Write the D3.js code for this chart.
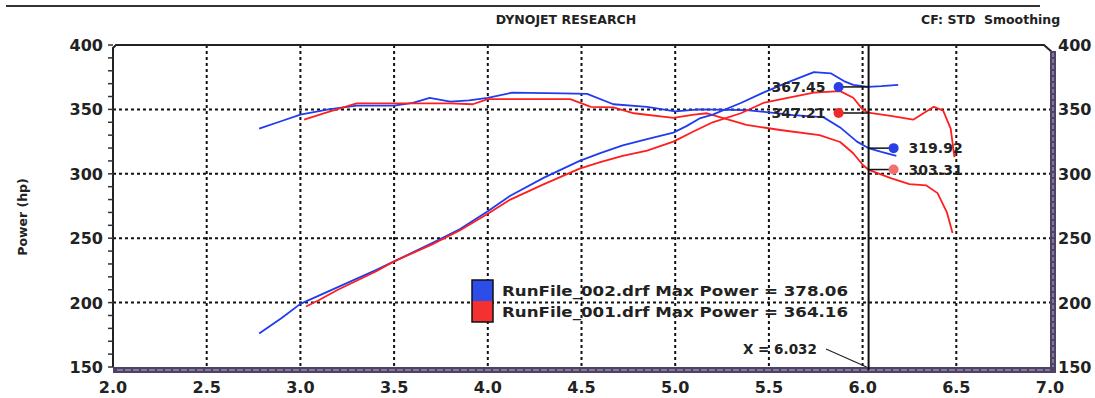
<!DOCTYPE html>
<html>
<head>
<meta charset="utf-8">
<script src="https://cdn.jsdelivr.net/npm/d3@7"></script>
<style>
  body { margin: 0; background: #fff; }
  svg { display: block; font-family: "DejaVu Sans", Verdana, sans-serif; font-weight: bold; }
</style>
</head>
<body>
<div id="chart"></div>
<script>
// axis ticks
const xTicks = [2.0, 2.5, 3.0, 3.5, 4.0, 4.5, 5.0, 5.5, 6.0, 6.5, 7.0];
const yTicks = [150, 200, 250, 300, 350, 400];

// RunFile_002 (blue) and RunFile_001 (red), [rpm x1000, value]
const run002Power = [[2.78,176],[2.9,188],[3.0,199],[3.2,212],[3.4,225],[3.5,232],[3.7,246],[3.85,257],[4.0,271],
  [4.12,283],[4.3,297],[4.49,310],[4.6,316],[4.72,322],[4.85,327],[4.99,332],[5.06,337],[5.13,343],[5.2,346],
  [5.35,355],[5.47,363],[5.6,371],[5.74,379],[5.83,378],[5.9,372],[5.95,369],[6.03,367.5],[6.1,368],[6.19,369]];
const run002Torque = [[2.78,335],[2.9,341],[3.0,346],[3.15,350],[3.3,353],[3.5,353],[3.6,355],[3.69,359],[3.8,356],
  [3.9,357],[4.0,359],[4.13,363],[4.4,362.5],[4.53,362],[4.67,354],[4.85,352],[5.0,348.5],[5.13,350],[5.38,349.5],
  [5.63,345.6],[5.79,344],[5.88,336],[5.97,325],[6.03,320],[6.1,317],[6.18,314]];
const run001Power = [[3.03,197],[3.1,202],[3.2,210],[3.4,224],[3.5,232],[3.7,245],[3.85,256],[4.0,269],[4.12,280],
  [4.3,292],[4.49,304],[4.6,309],[4.72,314],[4.85,318],[4.99,325],[5.1,333],[5.2,340],[5.35,347],[5.47,355],
  [5.6,359],[5.74,363],[5.88,364.2],[5.95,359],[6.0,350],[6.03,347.5],[6.15,345],[6.27,342],[6.38,352],[6.43,349],
  [6.47,335],[6.49,313]];
const run001Torque = [[3.02,342],[3.15,348],[3.3,354.7],[3.53,354.7],[3.8,354.7],[3.92,354],[4.0,358],[4.2,358],
  [4.44,358],[4.55,352],[4.67,351.5],[4.78,347],[4.99,343.5],[5.1,346],[5.17,347],[5.38,338],[5.56,334],[5.77,330],
  [5.88,324.7],[5.95,316],[6.0,307],[6.03,303.3],[6.15,296.7],[6.25,292],[6.34,291],[6.4,285],[6.45,270],[6.48,254]];

const cursorX = 6.032;
const cursorReadouts = [
  { value: 367.45, color: "#2a3ee8", side: "left" },
  { value: 347.21, color: "#f02828", side: "left" },
  { value: 319.92, color: "#2a3ee8", side: "right" },
  { value: 303.31, color: "#f27070", side: "right" }
];
const legendItems = [
  { label: "RunFile_002.drf Max Power = 378.06", color: "#2d4de8" },
  { label: "RunFile_001.drf Max Power = 364.16", color: "#f53030" }
];

const blue = "#1f3cf0", red = "#ff1e1e";

const svg = d3.select("#chart").append("svg").attr("width", 1095).attr("height", 398);

const x = d3.scaleLinear().domain([2, 7]).range([113, 1050]);
const y = d3.scaleLinear().domain([150, 400]).range([367, 45]);

// header
svg.append("line").attr("x1", 6).attr("x2", 1040).attr("y1", 6).attr("y2", 6)
  .attr("stroke", "#333").attr("stroke-width", 2);
svg.append("text").attr("x", 566).attr("y", 24).attr("text-anchor", "middle")
  .attr("font-size", 12.5).attr("fill", "#222").text("DYNOJET RESEARCH");
svg.append("text").attr("x", 921).attr("y", 24)
  .attr("font-size", 12.5).attr("fill", "#222").attr("xml:space", "preserve").text("CF: STD  Smoothing");

// grid
const grid = svg.append("g").attr("stroke", "#111").attr("stroke-width", 2).attr("stroke-dasharray", "3,3");
grid.selectAll(".vg").data(xTicks.slice(1, -1)).enter().append("line")
  .attr("x1", d => x(d)).attr("x2", d => x(d)).attr("y1", y(400)).attr("y2", y(150));
grid.selectAll(".hg").data(yTicks.slice(1, -1)).enter().append("line")
  .attr("x1", x(2)).attr("x2", x(7)).attr("y1", d => y(d)).attr("y2", d => y(d));

// frame: top, left, right bar and bottom bar
svg.append("path")
  .attr("d", `M${x(2)},${y(150)} L${x(2)},${y(400) + 3} L${x(2) + 3},${y(400)} L${x(7) - 6},${y(400)} L${x(7) + 3},${y(400) + 8}`)
  .attr("fill", "none").attr("stroke", "#222").attr("stroke-width", 2);
svg.append("rect").attr("x", x(7)).attr("y", y(400) + 6).attr("width", 6).attr("height", y(150) - y(400) - 2)
  .attr("fill", "#4e4266");
svg.append("line").attr("x1", x(7) + 3).attr("x2", x(7) + 3).attr("y1", y(400) + 8).attr("y2", y(150))
  .attr("stroke", "#b8b0c8").attr("stroke-width", 1).attr("stroke-dasharray", "4,2");
svg.append("rect").attr("x", x(2)).attr("y", y(150)).attr("width", x(7) - x(2) + 6).attr("height", 6)
  .attr("fill", "#4e4266");
svg.append("line").attr("x1", x(2) + 4).attr("x2", x(7)).attr("y1", y(150) + 3).attr("y2", y(150) + 3)
  .attr("stroke", "#b8b0c8").attr("stroke-width", 1).attr("stroke-dasharray", "6,2");

// minor ticks on left axis
const minor = d3.range(150, 401, 10);
svg.selectAll(".mt").data(minor).enter().append("line")
  .attr("x1", x(2) - 5).attr("x2", x(2)).attr("y1", d => y(d)).attr("y2", d => y(d))
  .attr("stroke", "#333").attr("stroke-width", 1.5);

// axis labels
svg.selectAll(".yl").data(yTicks).enter().append("text")
  .attr("x", 103).attr("y", d => y(d) + 6).attr("text-anchor", "end")
  .attr("font-size", 16).attr("fill", "#222").text(d => d);
svg.selectAll(".yr").data(yTicks).enter().append("text")
  .attr("x", 1058).attr("y", d => y(d) + 6)
  .attr("font-size", 16).attr("fill", "#222").text(d => d);
svg.selectAll(".xl").data(xTicks).enter().append("text")
  .attr("x", d => x(d)).attr("y", 393).attr("text-anchor", "middle")
  .attr("font-size", 16).attr("fill", "#222").text(d => d.toFixed(1));
svg.append("text").attr("transform", "translate(27,217) rotate(-90)").attr("text-anchor", "middle")
  .attr("font-size", 12.5).attr("fill", "#222").text("Power (hp)");

// curves
const line = d3.line().x(d => x(d[0])).y(d => y(d[1]));
[[run002Torque, blue], [run001Torque, red], [run002Power, blue], [run001Power, red]].forEach(([data, color]) => {
  svg.append("path").datum(data).attr("d", line)
    .attr("fill", "none").attr("stroke", color).attr("stroke-width", 1.8).attr("stroke-linejoin", "round");
});

// cursor
svg.append("line").attr("x1", x(cursorX)).attr("x2", x(cursorX)).attr("y1", y(400)).attr("y2", y(150) + 3)
  .attr("stroke", "#111").attr("stroke-width", 2);
svg.append("line").attr("x1", 826).attr("y1", 349).attr("x2", x(cursorX) - 2).attr("y2", y(150))
  .attr("stroke", "#222").attr("stroke-width", 1.2);
svg.append("text").attr("x", 743).attr("y", 354).attr("font-size", 13.5).attr("fill", "#222")
  .text(`X = ${cursorX.toFixed(3)}`);

cursorReadouts.forEach(r => {
  const dx = r.side === "left" ? x(cursorX) - 30 : x(cursorX) + 25;
  svg.append("line").attr("x1", dx).attr("x2", x(cursorX)).attr("y1", y(r.value)).attr("y2", y(r.value))
    .attr("stroke", "#111").attr("stroke-width", 1.5);
  svg.append("circle").attr("cx", dx).attr("cy", y(r.value)).attr("r", 5).attr("fill", r.color);
  svg.append("text")
    .attr("x", r.side === "left" ? dx - 13 : dx + 15).attr("y", y(r.value) + 5)
    .attr("text-anchor", r.side === "left" ? "end" : "start")
    .attr("font-size", 14).attr("fill", "#222").text(r.value.toFixed(2));
});

// legend
const lg = svg.append("g").attr("transform", "translate(472,280)");
legendItems.forEach((d, i) => {
  lg.append("rect").attr("x", 0).attr("y", i * 21).attr("width", 21).attr("height", 21).attr("fill", d.color);
  lg.append("text").attr("x", 30).attr("y", i * 21 + 16).attr("font-size", 14.5).attr("fill", "#222")
    .attr("textLength", 346).attr("lengthAdjust", "spacingAndGlyphs").text(d.label);
});
lg.append("rect").attr("width", 21).attr("height", 42).attr("fill", "none").attr("stroke", "#111").attr("stroke-width", 1.5);
</script>
</body>
</html>
